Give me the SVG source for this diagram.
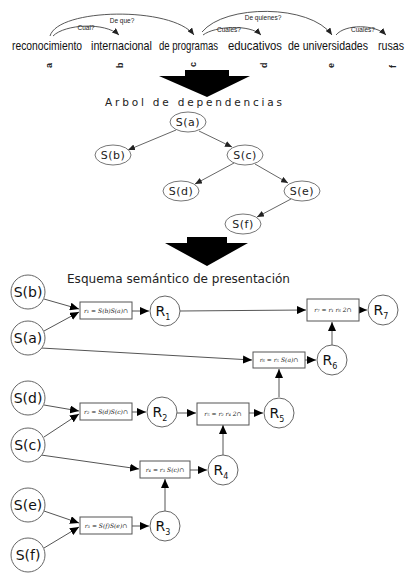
<svg xmlns="http://www.w3.org/2000/svg" width="413" height="577" viewBox="0 0 413 577">
<defs>
<style>
.w{font-family:"Liberation Sans",Arial,sans-serif;font-size:11px;fill:#111}
.lt{font-family:"Liberation Sans",Arial,sans-serif;font-size:9px;font-weight:bold;fill:#222}
.q{font-family:"Liberation Sans",Arial,sans-serif;font-size:6.5px;fill:#222}
.arc{fill:none;stroke:#444;stroke-width:0.9}
.tn ellipse{fill:#fff;stroke:#777;stroke-width:1}
.tn text{font-family:"DejaVu Sans",sans-serif;font-size:11px;fill:#222;text-anchor:middle;letter-spacing:0.5px}
.te{stroke:#555;stroke-width:0.9;fill:none}
.n circle{fill:#fff;stroke:#666;stroke-width:1}
.n text{font-family:"DejaVu Sans",sans-serif;font-size:14px;fill:#111;text-anchor:middle}
.b rect{fill:#fff;stroke:#555;stroke-width:1}
.b text{font-family:"DejaVu Serif",serif;font-style:italic;font-size:6px;fill:#222;text-anchor:middle}
.c{stroke:#555;stroke-width:1;fill:none}
.sub{font-size:8px}
</style>
<marker id="ah" markerUnits="userSpaceOnUse" markerWidth="9" markerHeight="8" refX="9" refY="4" orient="auto">
<path d="M0,0 L9,4 L0,8 z" fill="#000"/>
</marker>
<marker id="as" markerUnits="userSpaceOnUse" markerWidth="7" markerHeight="6" refX="7" refY="3" orient="auto">
<path d="M0,0 L7,3 L0,6 z" fill="#222"/>
</marker>
</defs>
<rect width="413" height="577" fill="#fff"/>

<g id="sentence">
<g transform="translate(0,50) scale(1,1.2)">
<text class="w" x="12" y="0" textLength="70" lengthAdjust="spacingAndGlyphs">reconocimiento</text>
<text class="w" x="91" y="0" textLength="61" lengthAdjust="spacingAndGlyphs">internacional</text>
<text class="w" x="159" y="0" textLength="59" lengthAdjust="spacingAndGlyphs">de programas</text>
<text class="w" x="228" y="0" textLength="54" lengthAdjust="spacingAndGlyphs">educativos</text>
<text class="w" x="288" y="0" textLength="80" lengthAdjust="spacingAndGlyphs">de universidades</text>
<text class="w" x="378" y="0" textLength="26" lengthAdjust="spacingAndGlyphs">rusas</text>
</g>
<text class="lt" transform="translate(52,68) rotate(-90)">a</text>
<text class="lt" transform="translate(123,68) rotate(-90)">b</text>
<text class="lt" transform="translate(196,67) rotate(-90)">c</text>
<text class="lt" transform="translate(267,68) rotate(-90)">d</text>
<text class="lt" transform="translate(334,68) rotate(-90)">e</text>
<text class="lt" transform="translate(396,68) rotate(-90)">f</text>
</g>

<g id="sentence-arcs">
<path class="arc" d="M50,36 C58,8 172,6 194,35" marker-end="url(#as)"/>
<path class="arc" d="M53,36 C65,24 105,22 119,35" marker-end="url(#as)"/>
<path class="arc" d="M202,32 C225,4 310,4 332,35" marker-end="url(#as)"/>
<path class="arc" d="M203,35 C215,26 250,24 261,35" marker-end="url(#as)"/>
<path class="arc" d="M336,35 C345,24 375,24 386,35" marker-end="url(#as)"/>
<text class="q" x="122" y="23" text-anchor="middle">De que?</text>
<text class="q" x="86" y="30" text-anchor="middle">Cual?</text>
<text class="q" x="263" y="20" text-anchor="middle">De quienes?</text>
<text class="q" x="229" y="32" text-anchor="middle">Cuales?</text>
<text class="q" x="363" y="32" text-anchor="middle">Cuales?</text>
</g>

<g id="arrow1">
<path d="M185,70 L229,70 L229,76 L250,76 L207,97 L159,76 L185,76 z" fill="#000"/>
</g>

<text x="105" y="106" font-family="DejaVu Sans,sans-serif" font-size="10.5" fill="#222" textLength="177" lengthAdjust="spacing">Arbol de dependencias</text>

<g id="tree-edges">
<line class="te" x1="176" y1="130" x2="128" y2="150" marker-end="url(#as)"/>
<line class="te" x1="199" y1="131" x2="232" y2="147" marker-end="url(#as)"/>
<line class="te" x1="234" y1="163" x2="195" y2="184" marker-end="url(#as)"/>
<line class="te" x1="255" y1="164" x2="288" y2="183" marker-end="url(#as)"/>
<line class="te" x1="291" y1="199" x2="257" y2="217" marker-end="url(#as)"/>
</g>
<g id="t-a" class="tn"><ellipse cx="188" cy="122" rx="18" ry="10"/><text x="188" y="126">S(a)</text></g>
<g id="t-b" class="tn"><ellipse cx="113" cy="155" rx="18" ry="10"/><text x="113" y="159">S(b)</text></g>
<g id="t-c" class="tn"><ellipse cx="245" cy="155" rx="18" ry="10"/><text x="245" y="159">S(c)</text></g>
<g id="t-d" class="tn"><ellipse cx="181" cy="191" rx="18" ry="10"/><text x="181" y="195">S(d)</text></g>
<g id="t-e" class="tn"><ellipse cx="302" cy="191" rx="18" ry="10"/><text x="302" y="195">S(e)</text></g>
<g id="t-f" class="tn"><ellipse cx="243" cy="224" rx="18" ry="10"/><text x="243" y="228">S(f)</text></g>

<g id="arrow2">
<path d="M187,237 L227,237 L227,243 L248,243 L207,266 L165,243 L187,243 z" fill="#000"/>
</g>

<text x="67" y="283" font-family="DejaVu Sans,sans-serif" font-size="11.5" fill="#222" textLength="223" lengthAdjust="spacingAndGlyphs">Esquema semántico de presentación</text>

<g id="connectors">
<line class="c" x1="44" y1="299" x2="79" y2="309" marker-end="url(#ah)"/>
<line class="c" x1="44" y1="331" x2="79" y2="312" marker-end="url(#ah)"/>
<line class="c" x1="132" y1="311" x2="149" y2="311" marker-end="url(#ah)"/>
<line class="c" x1="180" y1="311" x2="306" y2="310" marker-end="url(#ah)"/>
<line class="c" x1="359" y1="310" x2="367" y2="310" marker-end="url(#ah)"/>
<line class="c" x1="41" y1="348" x2="252" y2="360" marker-end="url(#ah)"/>
<line class="c" x1="305" y1="360" x2="316" y2="360" marker-end="url(#ah)"/>
<line class="c" x1="332" y1="345" x2="332" y2="322" marker-end="url(#ah)"/>
<line class="c" x1="44" y1="405" x2="79" y2="411" marker-end="url(#ah)"/>
<line class="c" x1="44" y1="437" x2="79" y2="414" marker-end="url(#ah)"/>
<line class="c" x1="132" y1="412" x2="146" y2="412" marker-end="url(#ah)"/>
<line class="c" x1="177" y1="413" x2="196" y2="413" marker-end="url(#ah)"/>
<line class="c" x1="249" y1="413" x2="263" y2="413" marker-end="url(#ah)"/>
<line class="c" x1="279" y1="397" x2="279" y2="369" marker-end="url(#ah)"/>
<line class="c" x1="41" y1="455" x2="139" y2="469" marker-end="url(#ah)"/>
<line class="c" x1="190" y1="470" x2="207" y2="470" marker-end="url(#ah)"/>
<line class="c" x1="223" y1="455" x2="223" y2="425" marker-end="url(#ah)"/>
<line class="c" x1="44" y1="511" x2="79" y2="523" marker-end="url(#ah)"/>
<line class="c" x1="44" y1="548" x2="79" y2="527" marker-end="url(#ah)"/>
<line class="c" x1="132" y1="526" x2="149" y2="526" marker-end="url(#ah)"/>
<line class="c" x1="165" y1="511" x2="165" y2="479" marker-end="url(#ah)"/>
</g>

<g id="n-Sb" class="n"><circle cx="28" cy="292" r="17"/><text x="28" y="297">S(b)</text></g>
<g id="n-Sa" class="n"><circle cx="28" cy="338" r="17"/><text x="28" y="343">S(a)</text></g>
<g id="n-Sd" class="n"><circle cx="28" cy="398" r="17"/><text x="28" y="403">S(d)</text></g>
<g id="n-Sc" class="n"><circle cx="28" cy="445" r="17"/><text x="28" y="450">S(c)</text></g>
<g id="n-Se" class="n"><circle cx="28" cy="505" r="17"/><text x="28" y="510">S(e)</text></g>
<g id="n-Sf" class="n"><circle cx="28" cy="555" r="17"/><text x="28" y="560">S(f)</text></g>

<g id="box1" class="b"><rect x="80" y="302" width="52" height="17"/><text x="106" y="313">r₁ = S(b)S(a)∩</text></g>
<g id="box7" class="b"><rect x="307" y="299" width="52" height="22"/><text x="333" y="312">r₇ = r₁ r₆ 2∩</text></g>
<g id="box6" class="b"><rect x="253" y="352" width="52" height="16"/><text x="279" y="362">r₆ = r₅ S(a)∩</text></g>
<g id="box2" class="b"><rect x="80" y="403" width="52" height="17"/><text x="106" y="414">r₂ = S(d)S(c)∩</text></g>
<g id="box5" class="b"><rect x="197" y="403" width="52" height="22"/><text x="223" y="416">r₅ = r₂ r₄ 2∩</text></g>
<g id="box4" class="b"><rect x="140" y="461" width="50" height="17"/><text x="165" y="472">r₄ = r₃ S(c)∩</text></g>
<g id="box3" class="b"><rect x="80" y="517" width="52" height="17"/><text x="106" y="528">r₃ = S(f)S(e)∩</text></g>

<g id="n-R1" class="n"><circle cx="165" cy="311" r="15"/><text x="163" y="316">R<tspan class="sub" dy="4">1</tspan></text></g>
<g id="n-R7" class="n"><circle cx="383" cy="310" r="15"/><text x="381" y="315">R<tspan class="sub" dy="4">7</tspan></text></g>
<g id="n-R6" class="n"><circle cx="332" cy="360" r="15"/><text x="330" y="365">R<tspan class="sub" dy="4">6</tspan></text></g>
<g id="n-R2" class="n"><circle cx="162" cy="412" r="15"/><text x="160" y="417">R<tspan class="sub" dy="4">2</tspan></text></g>
<g id="n-R5" class="n"><circle cx="279" cy="413" r="15"/><text x="277" y="418">R<tspan class="sub" dy="4">5</tspan></text></g>
<g id="n-R4" class="n"><circle cx="223" cy="470" r="15"/><text x="221" y="475">R<tspan class="sub" dy="4">4</tspan></text></g>
<g id="n-R3" class="n"><circle cx="165" cy="526" r="15"/><text x="163" y="531">R<tspan class="sub" dy="4">3</tspan></text></g>
</svg>
